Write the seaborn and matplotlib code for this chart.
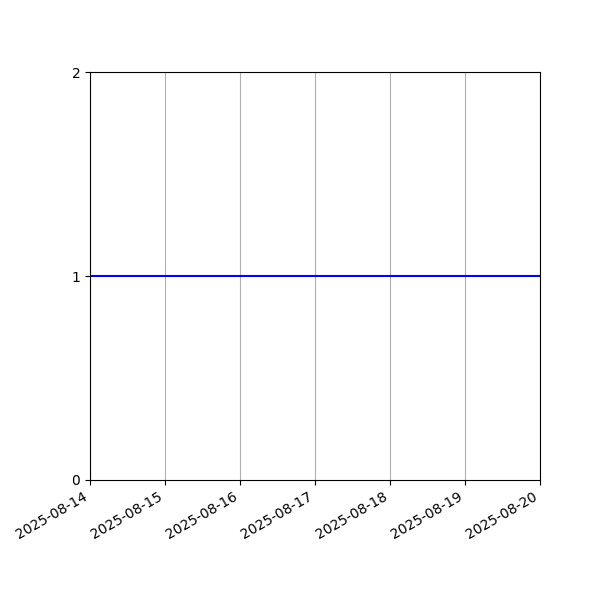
import pandas as pd
import matplotlib.pyplot as plt
import matplotlib.dates as mdates
import seaborn as sns

# data
dates = pd.date_range('2025-08-14', '2025-08-20', freq='D')
values = [1, 1, 1, 1, 1, 1, 1]
y_ticks = [0, 1, 2]

df = pd.DataFrame({'date': dates, 'value': values})

fig, ax = plt.subplots(figsize=(6, 6), dpi=100)
sns.lineplot(data=df, x='date', y='value', color='blue', ax=ax)

ax.set_xlim(dates[0], dates[-1])
ax.set_ylim(0, 2)
ax.set_yticks(y_ticks)
ax.xaxis.set_major_locator(mdates.DayLocator())
ax.xaxis.set_major_formatter(mdates.DateFormatter('%Y-%m-%d'))
ax.grid(axis='x', color='#b0b0b0', linewidth=0.8)
ax.set_xlabel('')
ax.set_ylabel('')
fig.autofmt_xdate()
fig.subplots_adjust(left=0.15, right=0.9, top=0.88, bottom=0.2)

fig.savefig('out.png', dpi=100)
